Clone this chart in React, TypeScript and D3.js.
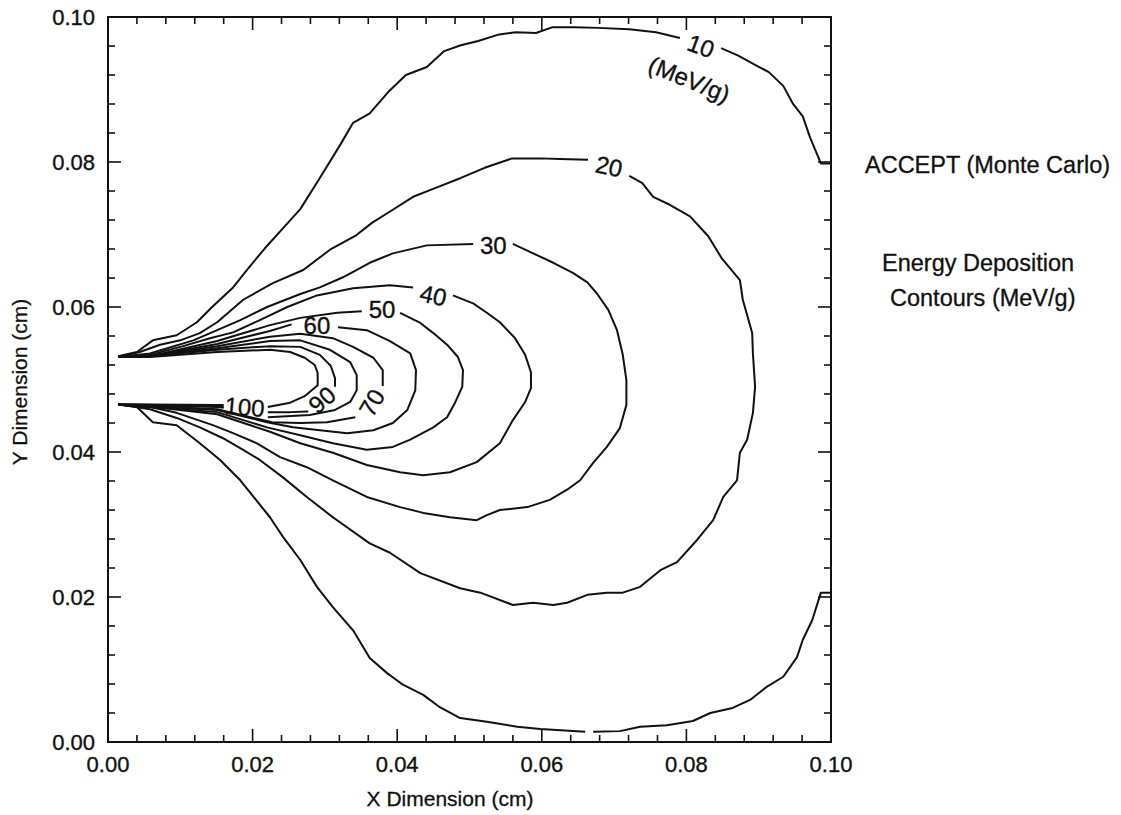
import React from "react";
import * as d3 from "d3";

type P = [number, number];

// Axis ticks
const xTickValues = [0, 0.02, 0.04, 0.06, 0.08, 0.1];
const yTickValues = [0, 0.02, 0.04, 0.06, 0.08, 0.1];
const tickLabels = ["0.00", "0.02", "0.04", "0.06", "0.08", "0.10"];
const minorTickValues = d3.range(0, 26).map((i) => +(i * 0.004).toFixed(3));

// Contour levels (MeV/g), each given as a list of polyline segments (x, y in cm)
const contour10: P[][] = [
  [[0.0014,0.0532],[0.0040,0.0538],[0.0062,0.0554],[0.0095,0.0561],[0.0123,0.0579],[0.0144,0.0600],[0.0173,0.0627],[0.0192,0.0651],[0.0217,0.0681],[0.0245,0.0712],[0.0266,0.0735],[0.0293,0.0778],[0.0322,0.0825],[0.0339,0.0854],[0.0362,0.0867],[0.0389,0.0898],[0.0412,0.0920],[0.0441,0.0931],[0.0465,0.0953],[0.0488,0.0961],[0.0512,0.0967],[0.0541,0.0976],[0.0564,0.0979],[0.0592,0.0978],[0.0615,0.0986],[0.0645,0.0986],[0.0678,0.0985],[0.0721,0.0983],[0.0758,0.0979],[0.0791,0.0971]],
  [[0.0848,0.0957],[0.0871,0.0947],[0.0895,0.0934],[0.0914,0.0924],[0.0934,0.0905],[0.0947,0.0881],[0.0961,0.0863],[0.0971,0.0834],[0.0986,0.0798],[0.1000,0.0798]],
  [[0.0014,0.0466],[0.0040,0.0462],[0.0062,0.0441],[0.0095,0.0437],[0.0127,0.0412],[0.0155,0.0389],[0.0183,0.0361],[0.0224,0.0310],[0.0242,0.0283],[0.0266,0.0251],[0.0289,0.0214],[0.0311,0.0186],[0.0339,0.0154],[0.0362,0.0116],[0.0386,0.0095],[0.0408,0.0079],[0.0436,0.0065],[0.0459,0.0048],[0.0487,0.0033],[0.0524,0.0028],[0.0566,0.0021],[0.0598,0.0018],[0.0660,0.0014]],
  [[0.0671,0.0014],[0.0708,0.0015],[0.0736,0.0021],[0.0773,0.0023],[0.0809,0.0029],[0.0833,0.0040],[0.0864,0.0047],[0.0888,0.0058],[0.0911,0.0076],[0.0934,0.0090],[0.0953,0.0117],[0.0961,0.0141],[0.0974,0.0168],[0.0986,0.0206],[0.1000,0.0206]],
];

const contour20: P[][] = [
  [[0.0014,0.0531],[0.0044,0.0538],[0.0072,0.0548],[0.0100,0.0554],[0.0127,0.0564],[0.0151,0.0579],[0.0187,0.0610],[0.0228,0.0633],[0.0270,0.0651],[0.0307,0.0679],[0.0342,0.0698],[0.0365,0.0716],[0.0389,0.0731],[0.0422,0.0752],[0.0455,0.0765],[0.0488,0.0778],[0.0521,0.0792],[0.0559,0.0805],[0.0598,0.0805],[0.0625,0.0804],[0.0664,0.0803]],
  [[0.0721,0.0781],[0.0739,0.0771],[0.0754,0.0752],[0.0777,0.0741],[0.0805,0.0725],[0.0830,0.0698],[0.0849,0.0667],[0.0874,0.0637],[0.0878,0.0610],[0.0891,0.0564],[0.0892,0.0536],[0.0895,0.0490],[0.0892,0.0454],[0.0884,0.0417],[0.0874,0.0399],[0.0870,0.0361],[0.0851,0.0338],[0.0837,0.0306],[0.0815,0.0279],[0.0787,0.0248],[0.0764,0.0237],[0.0736,0.0214],[0.0712,0.0206],[0.0690,0.0206],[0.0663,0.0203],[0.0635,0.0192],[0.0616,0.0189],[0.0588,0.0192],[0.0560,0.0189],[0.0515,0.0206],[0.0487,0.0212],[0.0432,0.0233],[0.0390,0.0261],[0.0362,0.0274],[0.0311,0.0310],[0.0275,0.0338],[0.0242,0.0365],[0.0210,0.0389],[0.0187,0.0403],[0.0159,0.0419],[0.0127,0.0434],[0.0095,0.0447],[0.0058,0.0459],[0.0014,0.0466]],
];

const contour30: P[][] = [
  [[0.0014,0.0531],[0.0058,0.0536],[0.0082,0.0543],[0.0118,0.0554],[0.0151,0.0568],[0.0183,0.0582],[0.0220,0.0600],[0.0266,0.0618],[0.0293,0.0627],[0.0325,0.0641],[0.0362,0.0661],[0.0394,0.0674],[0.0441,0.0685],[0.0505,0.0687]],
  [[0.0560,0.0687],[0.0588,0.0674],[0.0616,0.0661],[0.0643,0.0647],[0.0663,0.0634],[0.0676,0.0619],[0.0692,0.0596],[0.0704,0.0568],[0.0712,0.0534],[0.0717,0.0499],[0.0717,0.0465],[0.0708,0.0433],[0.0690,0.0407],[0.0671,0.0385],[0.0653,0.0361],[0.0635,0.0348],[0.0611,0.0334],[0.0580,0.0324],[0.0542,0.0320],[0.0524,0.0313],[0.0510,0.0306],[0.0473,0.0310],[0.0436,0.0316],[0.0404,0.0324],[0.0358,0.0338],[0.0311,0.0361],[0.0275,0.0379],[0.0238,0.0393],[0.0206,0.0412],[0.0173,0.0426],[0.0145,0.0437],[0.0095,0.0454],[0.0058,0.0462],[0.0014,0.0466]],
];

const contour40: P[][] = [
  [[0.0014,0.0531],[0.0058,0.0534],[0.0104,0.0546],[0.0141,0.0557],[0.0173,0.0565],[0.0210,0.0582],[0.0248,0.0600],[0.0289,0.0616],[0.0339,0.0626],[0.0390,0.0630],[0.0422,0.0627]],
  [[0.0477,0.0616],[0.0505,0.0605],[0.0524,0.0592],[0.0542,0.0579],[0.0563,0.0557],[0.0577,0.0534],[0.0585,0.0510],[0.0585,0.0488],[0.0577,0.0469],[0.0560,0.0444],[0.0542,0.0412],[0.0510,0.0386],[0.0473,0.0372],[0.0436,0.0368],[0.0404,0.0372],[0.0358,0.0382],[0.0311,0.0399],[0.0266,0.0412],[0.0224,0.0428],[0.0151,0.0452],[0.0072,0.0461],[0.0014,0.0465]],
];

const contour50: P[][] = [
  [[0.0014,0.0531],[0.0058,0.0532],[0.0151,0.0553],[0.0224,0.0575],[0.0266,0.0585],[0.0317,0.0592],[0.0351,0.0594]],
  [[0.0404,0.0592],[0.0432,0.0578],[0.0450,0.0564],[0.0469,0.0548],[0.0484,0.0531],[0.0491,0.0513],[0.0490,0.0490],[0.0480,0.0468],[0.0469,0.0448],[0.0450,0.0434],[0.0418,0.0417],[0.0394,0.0407],[0.0358,0.0403],[0.0311,0.0412],[0.0266,0.0423],[0.0220,0.0434],[0.0151,0.0455],[0.0058,0.0462],[0.0014,0.0465]],
];

const contour60: P[][] = [
  [[0.0014,0.0531],[0.0058,0.0532],[0.0151,0.0549],[0.0224,0.0567],[0.0254,0.0576]],
  [[0.0318,0.0572],[0.0358,0.0568],[0.0390,0.0553],[0.0418,0.0536],[0.0426,0.0513],[0.0425,0.0485],[0.0414,0.0458],[0.0394,0.0440],[0.0367,0.0430],[0.0331,0.0426],[0.0293,0.0430],[0.0256,0.0434],[0.0220,0.0441],[0.0151,0.0458],[0.0058,0.0463],[0.0014,0.0465]],
];

const contour70: P[][] = [
  [[0.0014,0.0531],[0.0058,0.0532],[0.0151,0.0546],[0.0224,0.0559],[0.0266,0.0563],[0.0311,0.0557],[0.0339,0.0545],[0.0367,0.0530],[0.0380,0.0513],[0.0380,0.0491]],
  [[0.0342,0.0448],[0.0303,0.0441],[0.0266,0.0440],[0.0227,0.0441],[0.0151,0.0459],[0.0058,0.0463],[0.0014,0.0465]],
];

const contour80: P[][] = [
  [[0.0014,0.0531],[0.0058,0.0532],[0.0151,0.0543],[0.0224,0.0553],[0.0266,0.0554],[0.0307,0.0541],[0.0335,0.0524],[0.0344,0.0506],[0.0344,0.0485],[0.0335,0.0469],[0.0314,0.0458],[0.0279,0.0451],[0.0221,0.0448]],
  [[0.0160,0.0461],[0.0151,0.0462],[0.0014,0.0465]],
];

const contour90: P[][] = [
  [[0.0014,0.0531],[0.0058,0.0532],[0.0151,0.0541],[0.0224,0.0546],[0.0266,0.0545],[0.0293,0.0534],[0.0308,0.0519],[0.0314,0.0502],[0.0314,0.0490]],
  [[0.0277,0.0456],[0.0252,0.0455],[0.0221,0.0455]],
  [[0.0160,0.0462],[0.0151,0.0463],[0.0014,0.0466]],
];

const contour100: P[][] = [
  [[0.0014,0.0531],[0.0058,0.0531],[0.0151,0.0538],[0.0224,0.0541],[0.0252,0.0538],[0.0272,0.0530],[0.0286,0.0520],[0.0290,0.0509],[0.0290,0.0492],[0.0272,0.0477],[0.0252,0.0468],[0.0221,0.0462]],
  [[0.0160,0.0465],[0.0151,0.0465],[0.0014,0.0466]],
];

const contours: P[][][] = [
  contour10, contour20, contour30, contour40, contour50,
  contour60, contour70, contour80, contour90, contour100,
];

// Contour labels: text, position (cm), rotation (deg)
const labelTexts = ["10", "(MeV/g)", "20", "30", "40", "50", "60", "70", "90", "100"];
const labelX = [0.0820, 0.0804, 0.0693, 0.0533, 0.0450, 0.0379, 0.0289, 0.0365, 0.0296, 0.0189];
const labelY = [0.0960, 0.0914, 0.0794, 0.0685, 0.0616, 0.0597, 0.0575, 0.0468, 0.0472, 0.0462];
const labelAngle = [20, 22, 12, 0, 12, 0, 0, -60, -40, 5];

const sideNotes = ["ACCEPT (Monte Carlo)", "Energy Deposition", "Contours (MeV/g)"];

const FONT = "'Liberation Sans', Arial, Helvetica, sans-serif";

export default function App() {
  const W = 1121;
  const H = 815;
  const left = 108, right = 831, top = 17, bottom = 742;
  const x = d3.scaleLinear().domain([0, 0.1]).range([left, right]);
  const y = d3.scaleLinear().domain([0, 0.1]).range([bottom, top]);
  const line = d3.line<P>().x((d) => x(d[0])).y((d) => y(d[1]));

  const isMajor = (v: number) => Math.abs(v / 0.02 - Math.round(v / 0.02)) < 1e-6;
  const majorLen = 13, minorLen = 7;

  return (
    <svg
      width={W}
      height={H}
      style={{ position: "absolute", left: 0, top: 0, background: "#fff" }}
      fontFamily={FONT}
    >
      <rect x={0} y={0} width={W} height={H} fill="#fff" />
      {/* contours */}
      <g fill="none" stroke="#111" strokeWidth={2} strokeLinejoin="round" strokeLinecap="butt">
        {contours.map((segs, i) =>
          segs.map((seg, j) => <path key={`c${i}-${j}`} d={line(seg) || ""} />)
        )}
      </g>
      {/* contour labels */}
      <g fontSize={24} fill="#111" stroke="#111" strokeWidth={0.35} textAnchor="middle">
        {labelTexts.map((t, i) => (
          <text
            key={`l${i}`}
            transform={`translate(${x(labelX[i])},${y(labelY[i])}) rotate(${labelAngle[i]})`}
            dominantBaseline="central"
          >
            {t}
          </text>
        ))}
      </g>
      {/* frame */}
      <rect x={left} y={top} width={right - left} height={bottom - top} fill="none" stroke="#111" strokeWidth={2} />
      {/* ticks */}
      <g stroke="#111" strokeWidth={1.6}>
        {minorTickValues.map((v, i) => {
          const L = isMajor(v) ? majorLen : minorLen;
          const px = x(v);
          const py = y(v);
          return (
            <g key={`t${i}`}>
              <line x1={px} x2={px} y1={bottom} y2={bottom - L} />
              <line x1={px} x2={px} y1={top} y2={top + L} />
              <line x1={left} x2={left + L} y1={py} y2={py} />
              <line x1={right} x2={right - L} y1={py} y2={py} />
            </g>
          );
        })}
      </g>
      {/* tick labels */}
      <g fontSize={22} fill="#111" stroke="#111" strokeWidth={0.35}>
        {xTickValues.map((v, i) => (
          <text key={`xl${i}`} x={x(v)} y={bottom + 30} textAnchor="middle">
            {tickLabels[i]}
          </text>
        ))}
        {yTickValues.map((v, i) => (
          <text key={`yl${i}`} x={left - 13} y={y(v) + 8} textAnchor="end">
            {tickLabels[i]}
          </text>
        ))}
      </g>
      {/* axis titles */}
      <g fontSize={21} fill="#111" stroke="#111" strokeWidth={0.3} textAnchor="middle">
        <text x={450} y={806}>X Dimension (cm)</text>
        <text transform={`translate(27,382) rotate(-90)`}>Y Dimension (cm)</text>
      </g>
      {/* side notes */}
      <g fontSize={23.5} fill="#111" stroke="#111" strokeWidth={0.3}>
        <text x={865} y={173}>{sideNotes[0]}</text>
        <text x={882} y={271}>{sideNotes[1]}</text>
        <text x={890} y={306}>{sideNotes[2]}</text>
      </g>
    </svg>
  );
}
